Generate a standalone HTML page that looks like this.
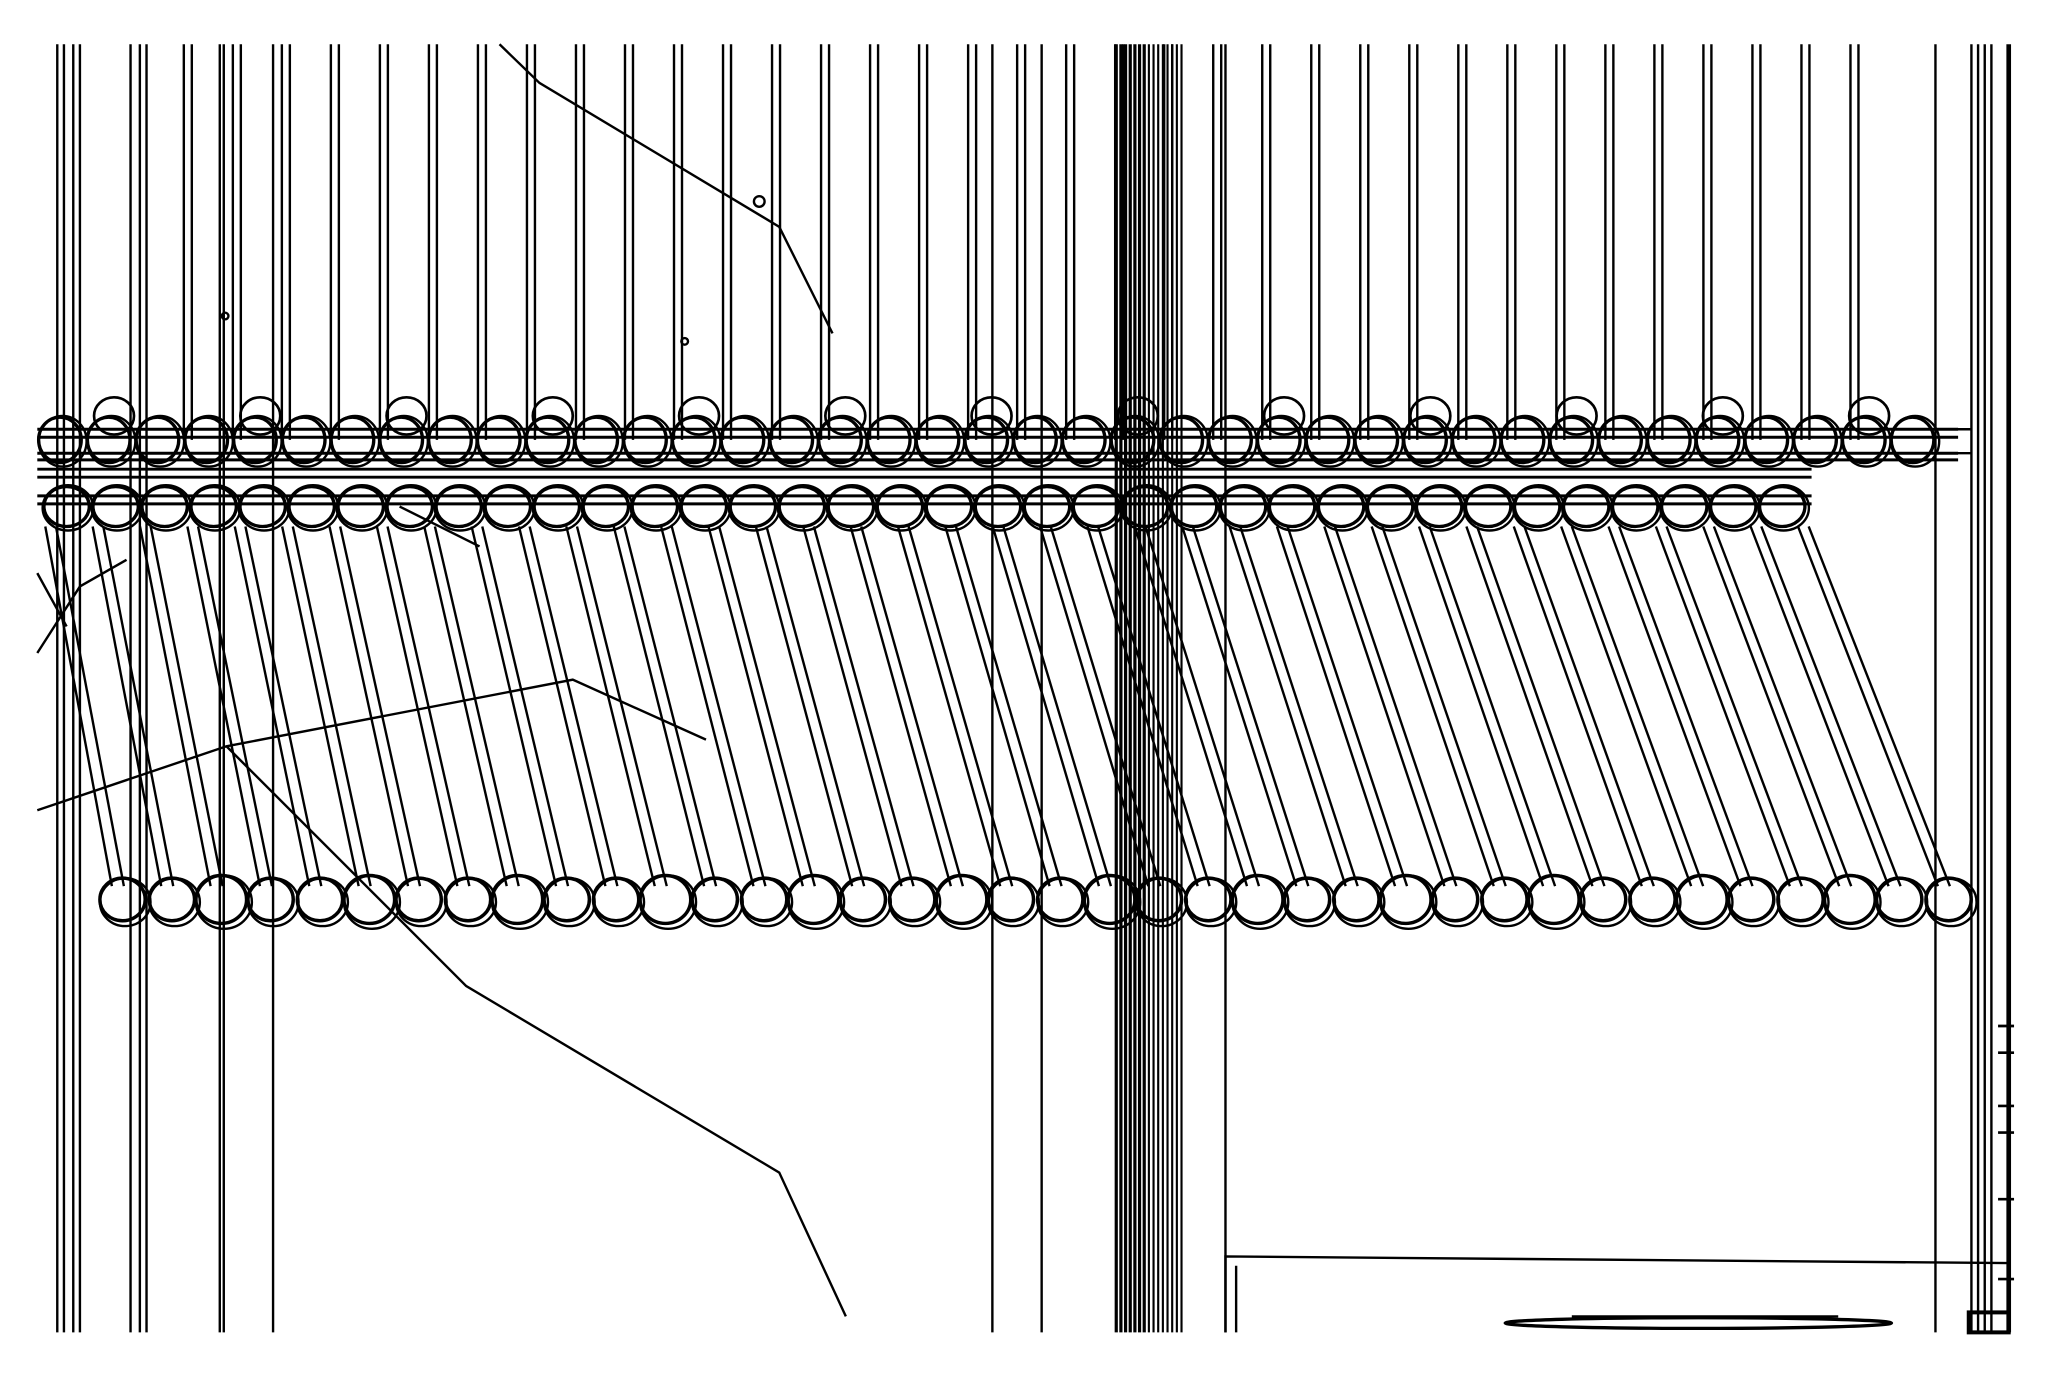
<!DOCTYPE html>
<html><head><meta charset="utf-8"><style>html,body{margin:0;padding:0;background:#fff;overflow:hidden}svg{display:block}</style></head>
<body>
<svg id="s" width="2058" height="1386" viewBox="0 0 1545 1040" xmlns="http://www.w3.org/2000/svg" fill="none" stroke="#000" stroke-width="1.8">
<g id="g"></g>
<polyline points="375,33 405,62 585,170 625,250"/>
<polyline points="28,608 170,560 430,510 530,555"/>
<polyline points="170,560 350,740 585,880 635,988"/>
<polyline points="28,490 60,440 95,420"/>
<polyline points="28,430 50,470"/>
<polyline points="300,380 360,410"/>
<polyline points="920,1000 920,943 1508,948"/>
<line x1="928" y1="950" x2="928" y2="1000"/>
<ellipse cx="1275" cy="993" rx="145" ry="4" stroke-width="2.5"/>
<line x1="1180" y1="988" x2="1380" y2="988"/>
<rect x="1478" y="985" width="30" height="15" stroke-width="3"/>
<circle cx="570" cy="151" r="4"/><circle cx="169" cy="237" r="2.5"/><circle cx="514" cy="256" r="2.5"/>
</svg>
<script>
var g=document.getElementById('g'),ns='http://www.w3.org/2000/svg';
function el(t,a){var e=document.createElementNS(ns,t);for(var k in a)e.setAttribute(k,a[k]);g.appendChild(e);}
function L(x1,y1,x2,y2,w){el('line',{x1:x1,y1:y1,x2:x2,y2:y2,'stroke-width':w||1.8});}
for(var k=0;k<37;k++){var x=138+36.8*k;if(x>1400)break;L(x,33,x,330);L(x+6,33,x+6,330);}
[43,48,55,60,98,105,110].forEach(function(x){L(x,33,x,1000);});
[165,168,205,745,782,920,1453,1480,1485,1490,1495].forEach(function(x){L(x,33,x,1000);});
L(1508,33,1508,1000,3.5);
for(var x=838;x<=890;x+=3.5)L(x,33,x,1000,x<862?2.4:1.6);
[322,328,340,345,352,358,372,378].forEach(function(y,i){L(28,y,i<4?1470:1360,y,2.2);});
L(1360,322,1480,322);L(1360,340,1480,340);
for(var k=0;k<40;k++){var x=45+36.6*k;if(x>1450)break;var big=(k%3==1);
 el('ellipse',{cx:x,cy:330,rx:16,ry:17,'stroke-width':2.5});el('ellipse',{cx:x+2,cy:331,rx:18,ry:19});
 if(big){el('ellipse',{cx:x+4,cy:312,rx:15,ry:14,'stroke-width':2});}}
for(var k=0;k<36;k++){var x=50+36.8*k;if(x>1350)break;
 el('ellipse',{cx:x,cy:380,rx:17,ry:15,'stroke-width':2.5});el('ellipse',{cx:x+1,cy:381,rx:19,ry:17});}
for(var k=0;k<38;k++){var x=92+37.05*k;var off=50+(x-92)/1370*55;
 L(x-off-8,395,x-8,665);L(x-off,395,x+1,665);
 var r=(k%3==2)?19:17;
 el('ellipse',{cx:x,cy:675,rx:r,ry:r-1,'stroke-width':2.6});el('ellipse',{cx:x+2,cy:677,rx:r+2,ry:r+1});}
[770,790,830,850,900,960].forEach(function(y){L(1500,y,1512,y,2);});
</script>
</body></html>
